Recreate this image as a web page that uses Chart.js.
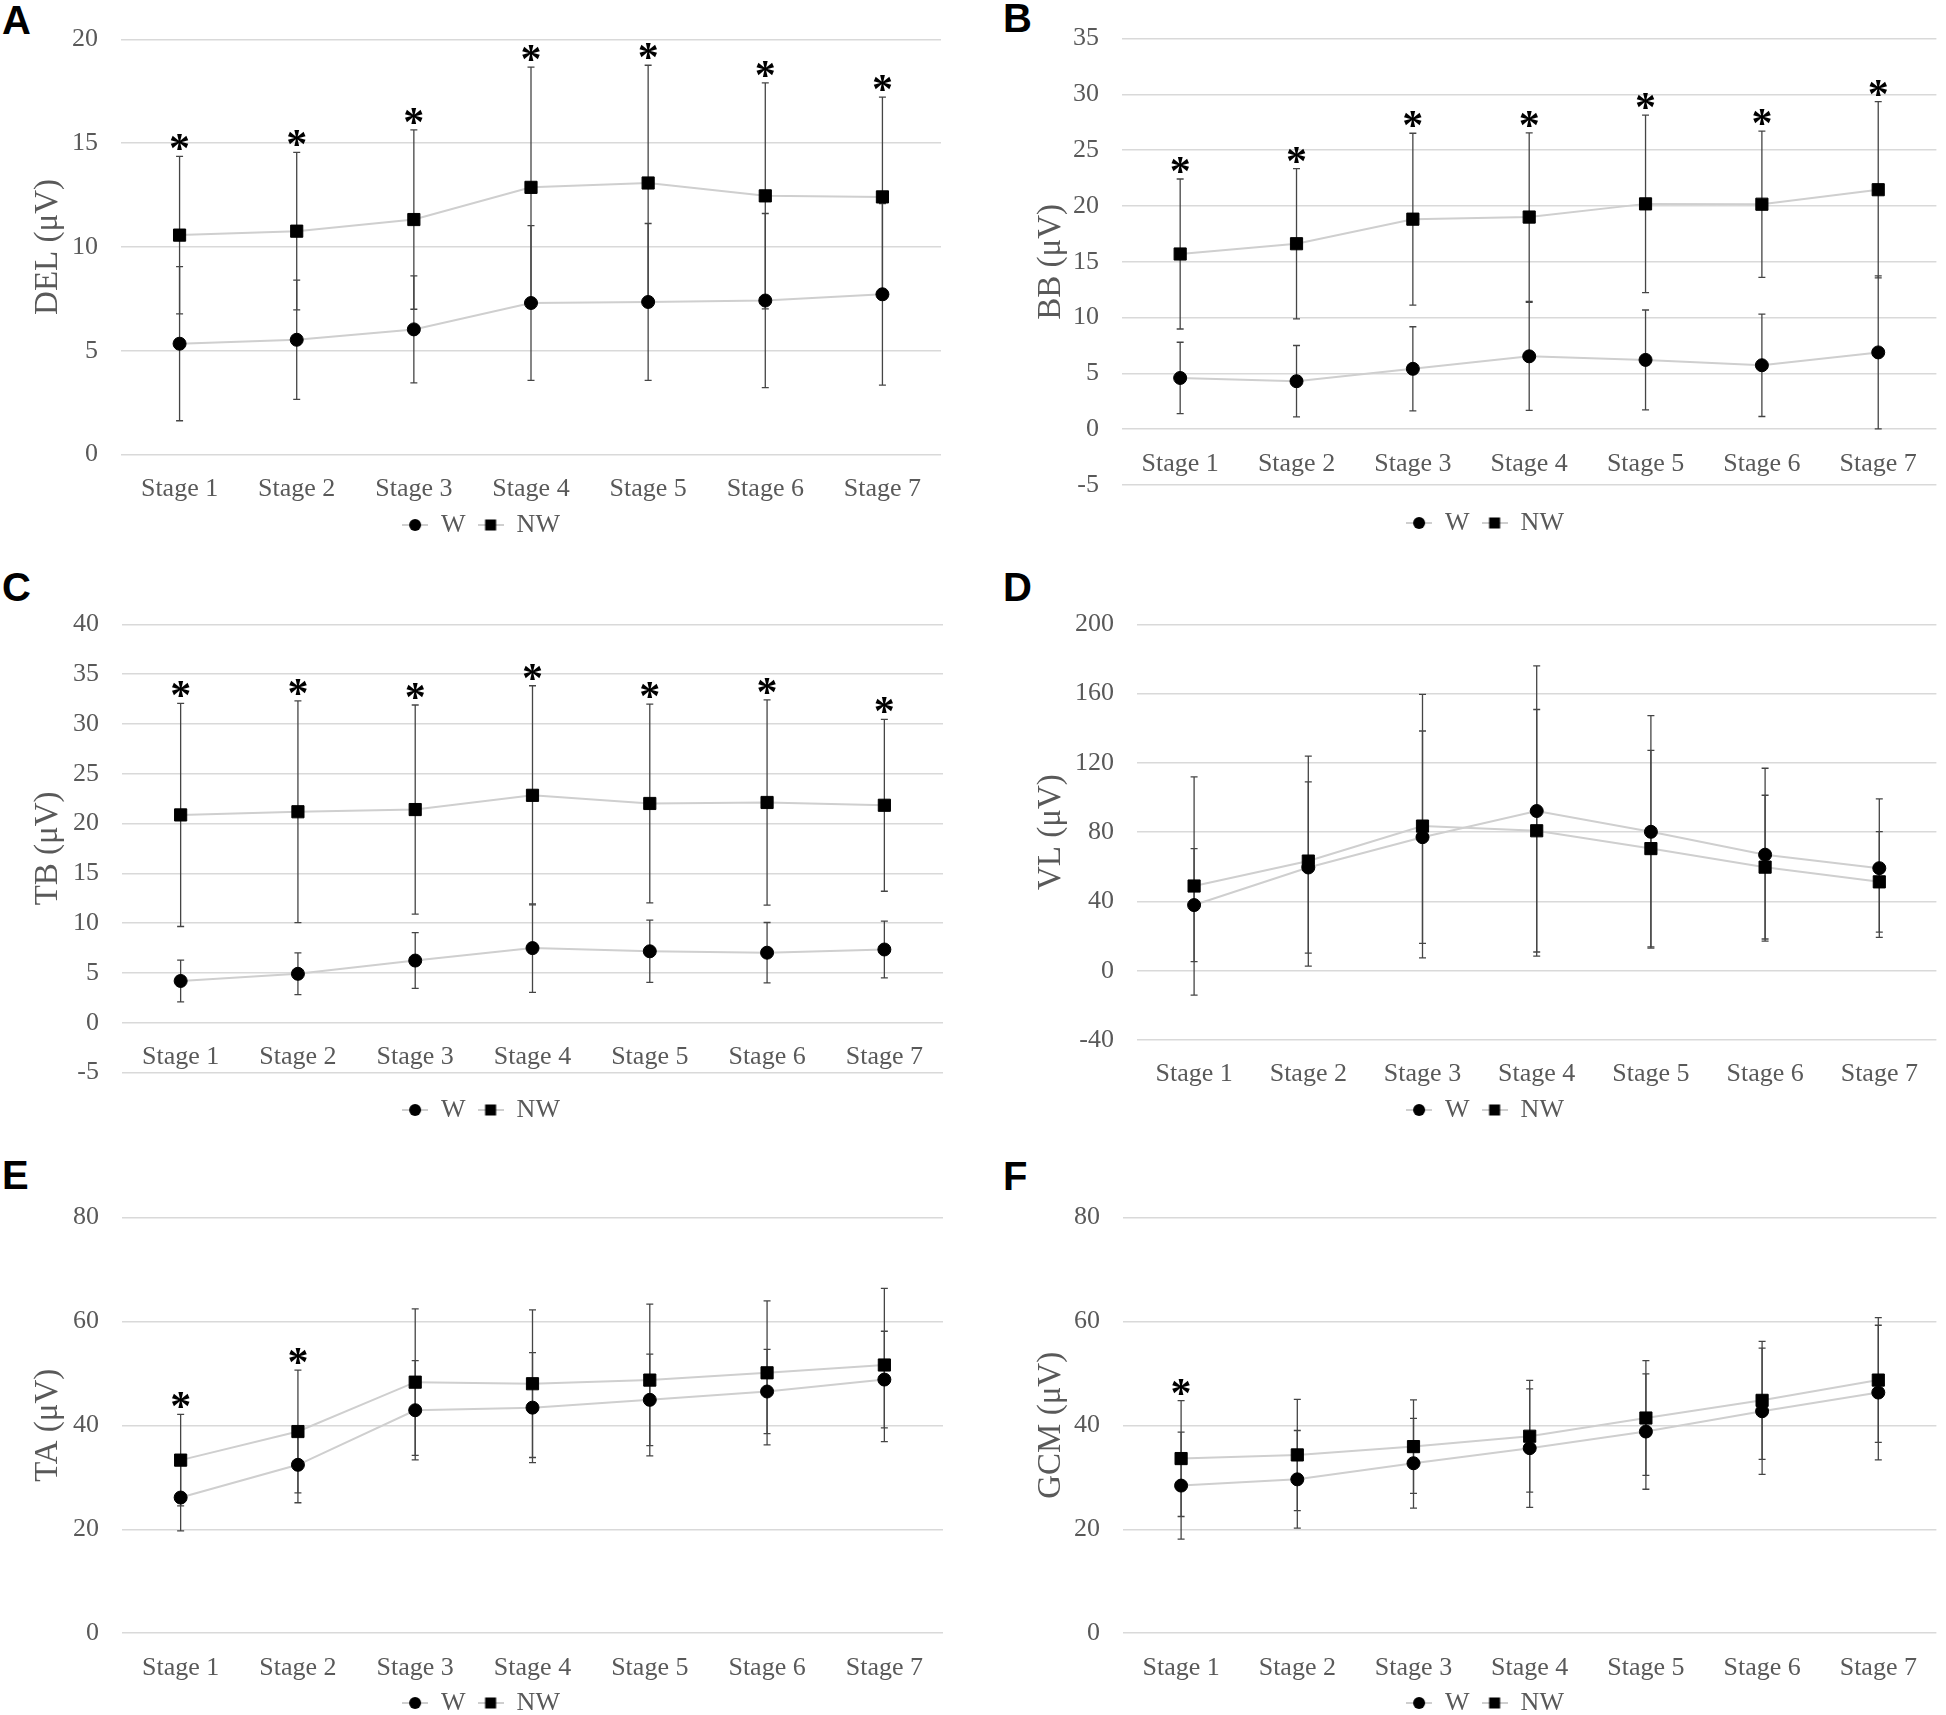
<!DOCTYPE html>
<html><head><meta charset="utf-8">
<script src="https://cdn.jsdelivr.net/npm/chart.js@4.4.0/dist/chart.umd.min.js"></script>
<style>
html,body{margin:0;padding:0;background:#fff;overflow:hidden;width:1946px;height:1715px;position:relative;}
canvas{position:absolute;}
.letter{position:absolute;font:bold 40px "Liberation Sans",Arial,sans-serif;line-height:40px;color:#000;}
</style></head><body>
<div class="letter" style="left:2px;top:0px">A</div>
<div class="letter" style="left:1003px;top:-2px">B</div>
<div class="letter" style="left:2px;top:567px">C</div>
<div class="letter" style="left:1003px;top:567px">D</div>
<div class="letter" style="left:2px;top:1155px">E</div>
<div class="letter" style="left:1003px;top:1156px">F</div>
<script>
// ---------- data ----------
const categories = ['Stage 1','Stage 2','Stage 3','Stage 4','Stage 5','Stage 6','Stage 7'];
const seriesNames = ['W','NW'];

// A: DEL
const delW    = [5.34, 5.53, 6.03, 7.30, 7.35, 7.42, 7.72];
const delWsd  = [3.71, 2.87, 2.58, 3.73, 3.78, 4.19, 4.37];
const delNW   = [10.57, 10.76, 11.32, 12.87, 13.08, 12.46, 12.41];
const delNWsd = [3.79, 3.79, 4.32, 5.79, 5.67, 5.44, 4.81];
const delSig  = [1,1,1,1,1,1,1];

// B: BB
const bbW    = [4.59, 4.30, 5.41, 6.53, 6.21, 5.73, 6.88];
const bbWsd  = [3.2, 3.2, 3.77, 4.84, 4.47, 4.59, 6.85];
const bbNW   = [15.70, 16.62, 18.82, 19.01, 20.19, 20.16, 21.46];
const bbNWsd = [6.72, 6.73, 7.7, 7.55, 7.95, 6.55, 7.9];
const bbSig  = [1,1,1,1,1,1,1];

// C: TB
const tbW    = [4.19, 4.91, 6.24, 7.49, 7.17, 7.03, 7.35];
const tbWsd  = [2.1, 2.1, 2.8, 4.45, 3.13, 3.03, 2.85];
const tbNW   = [20.86, 21.18, 21.40, 22.83, 22.01, 22.11, 21.83];
const tbNWsd = [11.2, 11.13, 10.5, 11.0, 9.97, 10.3, 8.63];
const tbSig  = [1,1,1,1,1,1,1];

// D: VL
const vlW    = [37.9, 59.6, 77.1, 92.2, 80.2, 67.0, 59.2];
const vlWsd  = [32.6, 49.4, 61.3, 83.8, 67.1, 49.9, 40.0];
const vlNW   = [48.9, 63.3, 83.5, 80.8, 70.5, 59.8, 51.3];
const vlNWsd = [63.0, 60.6, 76.1, 70.0, 56.7, 41.5, 29.0];
const vlSig  = [0,0,0,0,0,0,0];

// E: TA
const taW    = [26.1, 32.4, 42.9, 43.4, 44.9, 46.5, 48.8];
const taWsd  = [6.4, 7.3, 9.55, 10.6, 8.8, 8.1, 9.3];
const taNW   = [33.3, 38.8, 48.3, 48.0, 48.7, 50.1, 51.6];
const taNWsd = [8.8, 11.8, 14.1, 14.2, 14.6, 13.85, 14.75];
const taSig  = [1,1,0,0,0,0,0];

// F: GCM
const gcmW    = [28.4, 29.6, 32.7, 35.6, 38.8, 42.7, 46.3];
const gcmWsd  = [10.3, 9.4, 8.65, 11.4, 11.1, 12.15, 12.95];
const gcmNW   = [33.6, 34.3, 35.9, 37.9, 41.4, 44.8, 48.7];
const gcmNWsd = [11.15, 10.7, 9.0, 10.75, 11.05, 11.35, 12.0];
const gcmSig  = [1,0,0,0,0,0,0];

const yTitles = ['DEL (μV)','BB (μV)','TB (μV)','VL (μV)','TA (μV)','GCM (μV)'];
const yMins   = [0, -5, -5, -40, 0, 0];
const yMaxs   = [20, 35, 40, 200, 80, 80];
const ySteps  = [5, 5, 5, 40, 20, 20];
const xCross  = [0, 0, 0, -40, 0, 0];   // value where the category axis sits

// ---------- layout (page pixels) ----------
const layouts = [
  {box:{x:0,  y:0,   w:973,h:570}, area:{top:39.3,  bottom:454.6,  left:121,  right:941},  legX:481,  legY:525,  titleX:48},
  {box:{x:973,y:0,   w:973,h:570}, area:{top:36.4,  bottom:485,    left:1122, right:1942}, legX:1485, legY:523,  titleX:1051},
  {box:{x:0,  y:570, w:973,h:570}, area:{top:624.3, bottom:1072.5, left:122,  right:943},  legX:481,  legY:1110, titleX:48},
  {box:{x:973,y:570, w:973,h:570}, area:{top:624.3, bottom:1040,   left:1137, right:1944}, legX:1485, legY:1110, titleX:1051},
  {box:{x:0,  y:1140,w:973,h:600}, area:{top:1217.4,bottom:1633.2, left:122,  right:943},  legX:481,  legY:1703, titleX:48},
  {box:{x:973,y:1140,w:973,h:600}, area:{top:1217.4,bottom:1633.2, left:1123, right:1942}, legX:1485, legY:1703, titleX:1051}
];

const panelData = [
  [delW, delWsd, delNW, delNWsd, delSig],
  [bbW, bbWsd, bbNW, bbNWsd, bbSig],
  [tbW, tbWsd, tbNW, tbNWsd, tbSig],
  [vlW, vlWsd, vlNW, vlNWsd, vlSig],
  [taW, taWsd, taNW, taNWsd, taSig],
  [gcmW, gcmWsd, gcmNW, gcmNWsd, gcmSig]
];

Chart.defaults.font.family = '"Liberation Serif","Times New Roman",serif';
Chart.defaults.color = '#595959';

const FONT = 26, LEG_PAD = 12, TITLE_FONT = 33;
const GREY_LINE = '#cfcfcf';

function legendImg(style){
  const c = document.createElement('canvas'); c.width = 26; c.height = 16;
  const g = c.getContext('2d');
  g.strokeStyle = GREY_LINE; g.lineWidth = 2;
  g.beginPath(); g.moveTo(0,8); g.lineTo(26,8); g.stroke();
  g.fillStyle = '#000';
  if (style === 'circle') { g.beginPath(); g.arc(13,8,6,0,Math.PI*2); g.fill(); }
  else { g.fillRect(7.5,2.5,11,11); }
  return c;
}
const legendImgs = [legendImg('circle'), legendImg('rect')];

const errPlugin = {
  id: 'errbars',
  beforeDatasetsDraw(chart) {
    const ctx = chart.ctx, ys = chart.scales.y;
    chart.data.datasets.forEach((ds, di) => {
      const meta = chart.getDatasetMeta(di);
      meta.data.forEach((pt, i) => {
        const m = ds.data[i], s = ds.sd[i];
        const y1 = ys.getPixelForValue(m + s), y2 = ys.getPixelForValue(m - s);
        ctx.save();
        ctx.strokeStyle = '#454545'; ctx.lineWidth = 1.3;
        ctx.beginPath();
        ctx.moveTo(pt.x, y1); ctx.lineTo(pt.x, y2);
        ctx.moveTo(pt.x - 3.5, y1); ctx.lineTo(pt.x + 3.5, y1);
        ctx.moveTo(pt.x - 3.5, y2); ctx.lineTo(pt.x + 3.5, y2);
        ctx.stroke(); ctx.restore();
      });
    });
  },
  afterDatasetsDraw(chart, args, opts) {
    const sig = opts.sig || [];
    const ctx = chart.ctx, ys = chart.scales.y;
    ctx.save();
    ctx.font = 'bold 42px "Liberation Serif", serif';
    ctx.fillStyle = '#000'; ctx.textAlign = 'center'; ctx.textBaseline = 'alphabetic';
    const mt = ctx.measureText('*');
    const asc = mt.actualBoundingBoxAscent, desc = mt.actualBoundingBoxDescent;
    sig.forEach((flag, i) => {
      if (!flag) return;
      let top = Infinity, x = 0;
      chart.data.datasets.forEach((ds, di) => {
        const pt = chart.getDatasetMeta(di).data[i];
        x = pt.x;
        top = Math.min(top, ys.getPixelForValue(ds.data[i] + ds.sd[i]));
      });
      const centerY = top - 14;
      ctx.fillText('*', x, centerY + (asc - desc) / 2);
    });
    ctx.restore();
  }
};

layouts.forEach((L, p) => {
  const [w, wsd, nw, nwsd, sig] = panelData[p];
  const cv = document.createElement('canvas');
  cv.width = L.box.w; cv.height = L.box.h;
  cv.style.left = L.box.x + 'px'; cv.style.top = L.box.y + 'px';
  cv.style.width = L.box.w + 'px'; cv.style.height = L.box.h + 'px';
  document.body.appendChild(cv);

  const bottomLocal = L.area.bottom - L.box.y;
  const titleH = L.legY - L.area.bottom - LEG_PAD - FONT / 2;
  const legendH = titleH + FONT + LEG_PAD + 10;
  const padRight = L.box.w - (L.area.right - L.box.x);
  const legXLocal = L.legX - L.box.x;
  const padLeft = Math.max(0, 2 * legXLocal - L.box.w + padRight);
  const yAxisW = (L.area.left - L.box.x) - padLeft;
  const titleLH = TITLE_FONT * 1.2;
  const titlePadTop = (L.titleX - L.box.x) - padLeft - titleLH / 2;

  new Chart(cv, {
    type: 'line',
    data: {
      labels: categories,
      datasets: [
        {label: seriesNames[0], data: w, sd: wsd, borderColor: GREY_LINE, borderWidth: 2, tension: 0, fill: false,
         pointStyle: 'circle', pointRadius: 6.5, pointBackgroundColor: '#000', pointBorderColor: '#000', pointBorderWidth: 1},
        {label: seriesNames[1], data: nw, sd: nwsd, borderColor: GREY_LINE, borderWidth: 2, tension: 0, fill: false,
         pointStyle: 'rect', pointRadius: 8.6, pointBackgroundColor: '#000', pointBorderColor: '#000', pointBorderWidth: 1}
      ]
    },
    options: {
      responsive: false, animation: false, devicePixelRatio: 1, events: [],
      layout: {padding: {top: L.area.top - L.box.y, left: padLeft, right: padRight,
                         bottom: L.box.h - bottomLocal - legendH}},
      scales: {
        x: {
          type: 'category', offset: true, position: {y: xCross[p]},
          grid: {display: false}, border: {display: false},
          ticks: {padding: 11, font: {size: FONT}, color: '#595959', maxRotation: 0, autoSkip: false}
        },
        y: {
          min: yMins[p], max: yMaxs[p],
          ticks: {stepSize: ySteps[p], padding: 23, font: {size: FONT}, color: '#595959'},
          grid: {color: '#d9d9d9', lineWidth: 1.5, drawTicks: false},
          border: {display: false},
          title: {display: true, text: yTitles[p], color: '#595959', font: {size: TITLE_FONT},
                  padding: {top: titlePadTop, bottom: 0}},
          afterFit(scale) { scale.width = yAxisW; }
        }
      },
      plugins: {
        tooltip: {enabled: false},
        errbars: {sig: sig},
        legend: {
          position: 'bottom', align: 'center',
          title: {display: true, text: '', font: {size: 1}, padding: {top: titleH - 1.2, bottom: 0}},
          labels: {
            usePointStyle: true, pointStyleWidth: 26, padding: LEG_PAD,
            font: {size: FONT}, color: '#595959',
            generateLabels: (chart) => chart.data.datasets.map((ds, i) => ({
              text: ds.label, pointStyle: legendImgs[i], fillStyle: '#000', strokeStyle: '#000',
              lineWidth: 0, hidden: false, datasetIndex: i, fontColor: '#595959'
            }))
          }
        }
      }
    },
    plugins: [errPlugin]
  });
});
</script>
</body></html>
